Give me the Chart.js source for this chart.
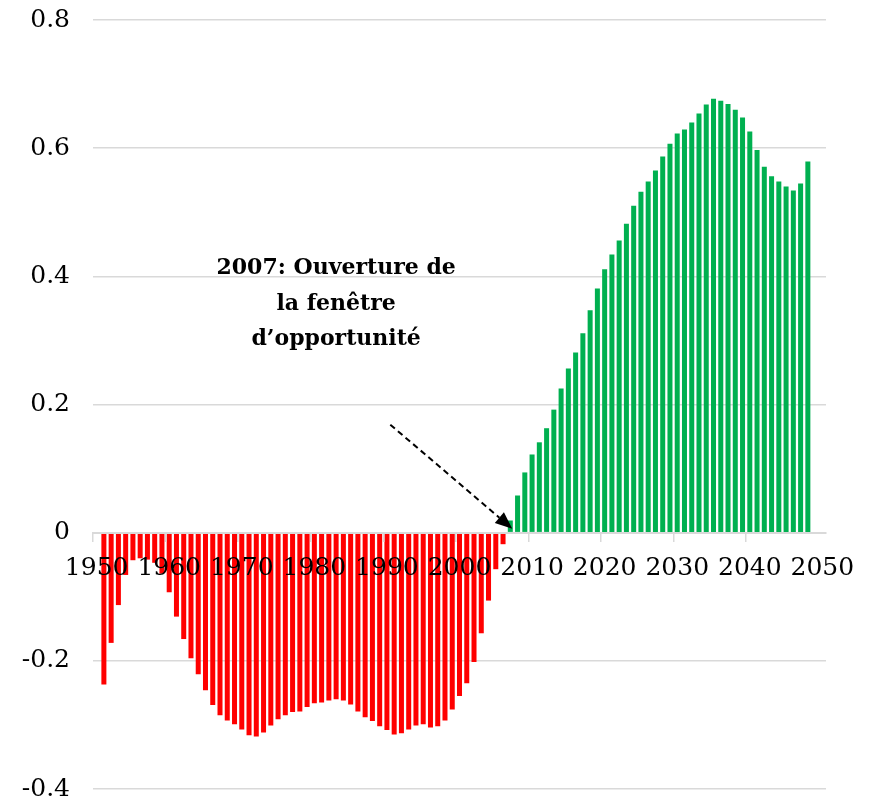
<!DOCTYPE html>
<html><head><meta charset="utf-8">
<script src="https://cdn.jsdelivr.net/npm/chart.js@4.4.0/dist/chart.umd.min.js"></script>
<style>html,body{margin:0;padding:0;background:#fff}#wrap{width:870px;height:800px}</style>
</head><body><div id="wrap"><canvas id="c" width="870" height="800"></canvas></div>
<script>
// Categories: every year 1950..2050
const firstYear = 1950, lastYear = 2050;
const years = [];
for (let y = firstYear; y <= lastYear; y++) years.push(y);

// Negative values (red), years 1951..2006
const deficitStart = 1951;
const deficitValues = [
  -0.237, -0.172, -0.113, -0.066, -0.043, -0.040, -0.042, -0.047, -0.064, -0.093,
  -0.131, -0.166, -0.196, -0.221, -0.246, -0.269, -0.285, -0.293, -0.299, -0.307,
  -0.316, -0.318, -0.312, -0.301, -0.291, -0.285, -0.280, -0.279, -0.272, -0.266,
  -0.265, -0.262, -0.260, -0.262, -0.268, -0.279, -0.288, -0.294, -0.302, -0.308,
  -0.315, -0.313, -0.307, -0.301, -0.299, -0.304, -0.302, -0.293, -0.276, -0.255,
  -0.235, -0.202, -0.157, -0.106, -0.057, -0.018
];

// Positive values (green), years 2007..2048
const surplusStart = 2007;
const surplusValues = [
  0.019, 0.058, 0.094, 0.122, 0.141, 0.163, 0.192, 0.225, 0.256, 0.281,
  0.311, 0.347, 0.381, 0.411, 0.434, 0.456, 0.482, 0.510, 0.532, 0.548,
  0.565, 0.587, 0.607, 0.623, 0.629, 0.640, 0.654, 0.668, 0.677, 0.674,
  0.669, 0.660, 0.648, 0.626, 0.597, 0.571, 0.556, 0.548, 0.540, 0.534,
  0.545, 0.579
];

const xTickYears = [1950, 1960, 1970, 1980, 1990, 2000, 2010, 2020, 2030, 2040, 2050];
const yTickValues = [-0.4, -0.2, 0, 0.2, 0.4, 0.6, 0.8];
const annotationLines = ['2007: Ouverture de', 'la fenêtre', 'd\u2019opportunité'];
const annotationYear = 2007;

function seriesFor(start, vals) {
  return years.map(y => {
    const i = y - start;
    return (i >= 0 && i < vals.length) ? vals[i] : null;
  });
}

const annotationPlugin = {
  id: 'annot',
  afterDraw(chart) {
    const ctx = chart.ctx;
    const xs = chart.scales.x, ys = chart.scales.y;
    ctx.save();
    // text
    ctx.font = 'bold 22px "DejaVu Serif"';
    ctx.fillStyle = '#000';
    ctx.textAlign = 'center';
    ctx.textBaseline = 'alphabetic';
    const tx = xs.getPixelForValue(years.indexOf(1983));
    const base = ys.getPixelForValue(0.4) - 2;
    annotationLines.forEach((l, i) => ctx.fillText(l, tx, base + i * 35.5));
    // arrow
    const tipX = xs.getPixelForValue(years.indexOf(annotationYear)) + 2;
    const tipY = ys.getPixelForValue(0) - 4;
    const sx = tipX - 122, sy = tipY - 104;
    const ang = Math.atan2(tipY - sy, tipX - sx);
    const headLen = 17, headW = 7;
    const bx = tipX - headLen * Math.cos(ang), by = tipY - headLen * Math.sin(ang);
    ctx.strokeStyle = '#000';
    ctx.lineWidth = 2;
    ctx.setLineDash([6, 4]);
    ctx.beginPath();
    ctx.moveTo(sx, sy);
    ctx.lineTo(bx, by);
    ctx.stroke();
    ctx.setLineDash([]);
    ctx.beginPath();
    ctx.moveTo(tipX, tipY);
    ctx.lineTo(bx + headW * Math.sin(ang), by - headW * Math.cos(ang));
    ctx.lineTo(bx - headW * Math.sin(ang), by + headW * Math.cos(ang));
    ctx.closePath();
    ctx.fill();
    ctx.restore();
  }
};

const tickFont = {family: 'DejaVu Serif', size: 25};

new Chart(document.getElementById('c'), {
  type: 'bar',
  data: {
    labels: years.map(String),
    datasets: [
      {label: 'deficit', data: seriesFor(deficitStart, deficitValues), backgroundColor: '#ff0000',
       grouped: false, barPercentage: 0.69, categoryPercentage: 1},
      {label: 'surplus', data: seriesFor(surplusStart, surplusValues), backgroundColor: '#00b050',
       grouped: false, barPercentage: 0.69, categoryPercentage: 1}
    ]
  },
  options: {
    responsive: false,
    animation: false,
    devicePixelRatio: 1,
    layout: {padding: {top: 20, bottom: 11, left: 0, right: 44}},
    plugins: {legend: {display: false}, tooltip: {enabled: false}, title: {display: false}},
    scales: {
      x: {
        type: 'category',
        position: {y: 0},
        offset: true,
        grid: {
          offset: true, drawOnChartArea: false, drawTicks: true, tickLength: 8, lineWidth: 1.5, z: 1,
          color: c => (c.index !== undefined && xTickYears.includes(years[c.index]) && years[c.index] < lastYear) ? '#d9d9d9' : 'rgba(0,0,0,0)'
        },
        border: {display: true, color: '#d9d9d9', width: 2, z: 1},
        ticks: {
          z: 2,
          autoSkip: false, maxRotation: 0, minRotation: 0, padding: 13, color: '#000', font: tickFont,
          callback: (v, i) => xTickYears.includes(years[i]) ? String(years[i]) : ''
        }
      },
      y: {
        min: -0.4, max: 0.8,
        afterBuildTicks: s => { s.ticks = yTickValues.map(v => ({value: v})); },
        afterFit: s => { s.width = 93; s.paddingTop = 0; s.paddingBottom = 0; },
        grid: {color: '#d9d9d9', lineWidth: 1.5, drawTicks: false},
        border: {display: false},
        ticks: {
          padding: 23, color: '#000', font: tickFont,
          callback: v => (Math.abs(v) < 1e-9 ? '0' : Number(v).toFixed(1))
        }
      }
    }
  },
  plugins: [annotationPlugin]
});
</script>
</body></html>
